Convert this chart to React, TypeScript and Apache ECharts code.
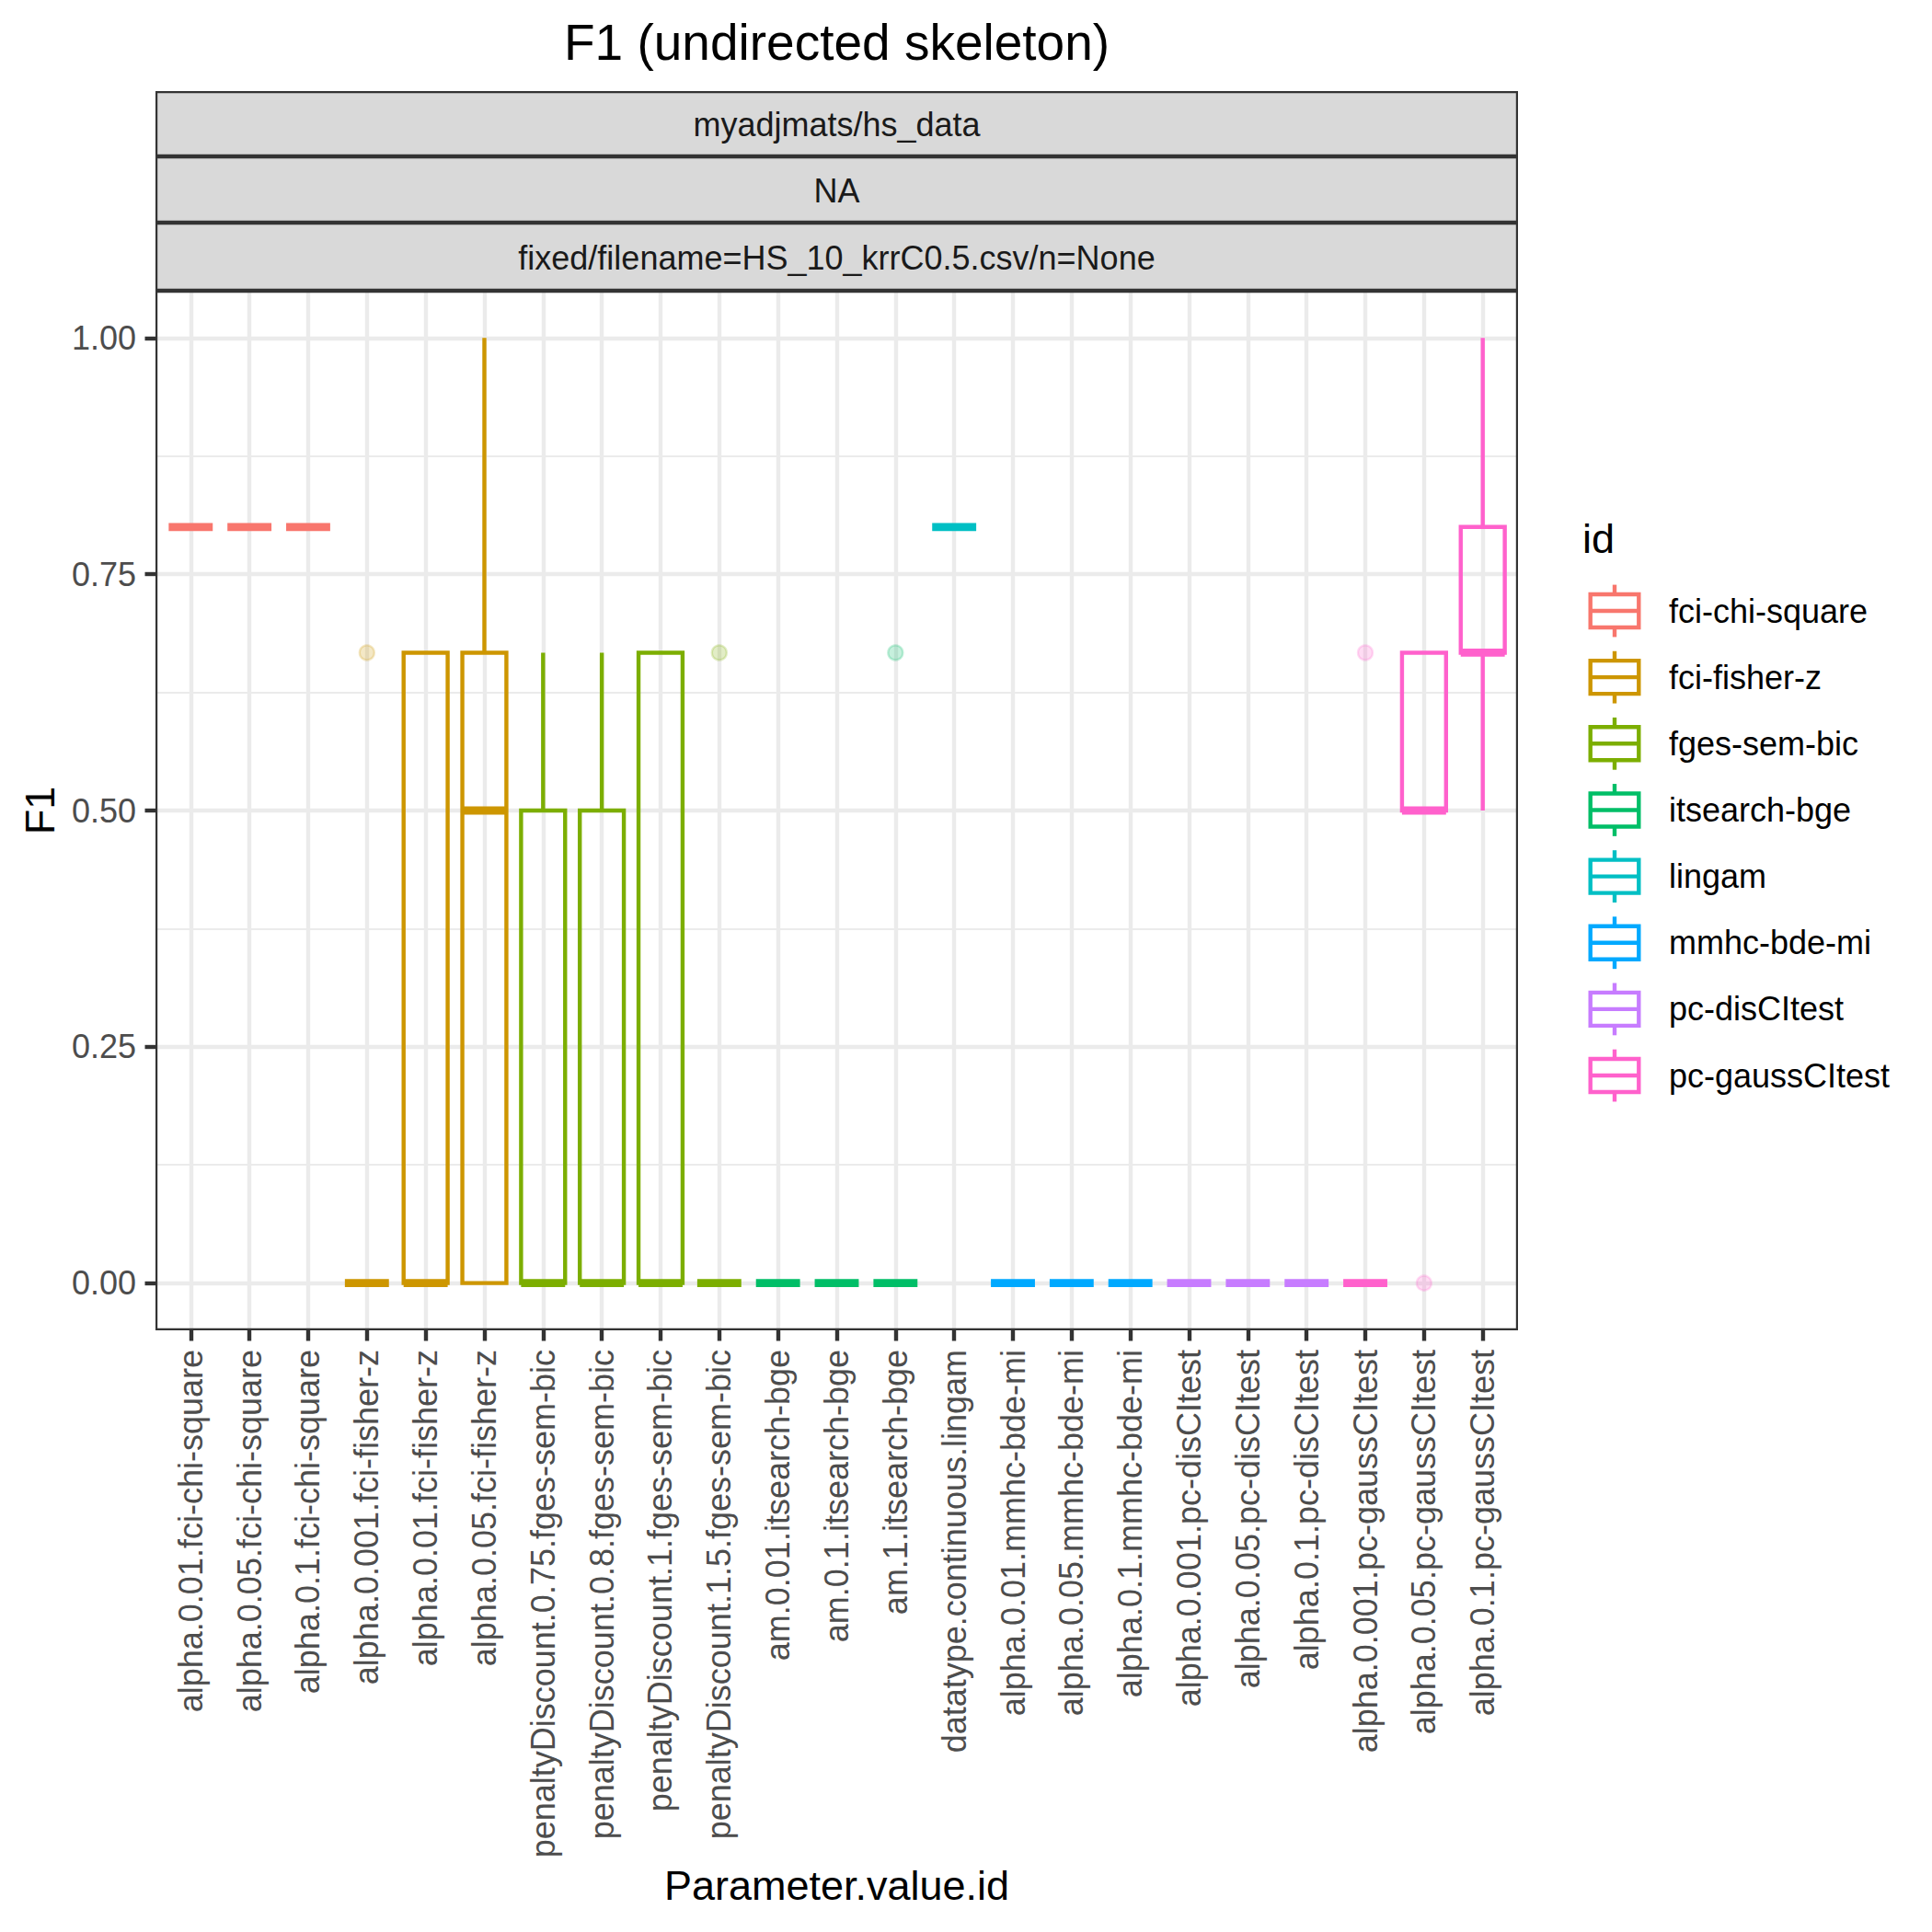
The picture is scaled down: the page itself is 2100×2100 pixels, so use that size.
import React, { useEffect, useRef } from "react";
import * as echarts from "echarts";

// ---------------- data ----------------
const categories = [
  "alpha.0.01.fci-chi-square",
  "alpha.0.05.fci-chi-square",
  "alpha.0.1.fci-chi-square",
  "alpha.0.001.fci-fisher-z",
  "alpha.0.01.fci-fisher-z",
  "alpha.0.05.fci-fisher-z",
  "penaltyDiscount.0.75.fges-sem-bic",
  "penaltyDiscount.0.8.fges-sem-bic",
  "penaltyDiscount.1.fges-sem-bic",
  "penaltyDiscount.1.5.fges-sem-bic",
  "am.0.01.itsearch-bge",
  "am.0.1.itsearch-bge",
  "am.1.itsearch-bge",
  "datatype.continuous.lingam",
  "alpha.0.01.mmhc-bde-mi",
  "alpha.0.05.mmhc-bde-mi",
  "alpha.0.1.mmhc-bde-mi",
  "alpha.0.001.pc-disCItest",
  "alpha.0.05.pc-disCItest",
  "alpha.0.1.pc-disCItest",
  "alpha.0.001.pc-gaussCItest",
  "alpha.0.05.pc-gaussCItest",
  "alpha.0.1.pc-gaussCItest",
];

const groupIds = [
  "fci-chi-square",
  "fci-fisher-z",
  "fges-sem-bic",
  "itsearch-bge",
  "lingam",
  "mmhc-bde-mi",
  "pc-disCItest",
  "pc-gaussCItest",
];
const groupColors = ["#F8766D", "#CD9600", "#7CAE00", "#00BE67", "#00BFC4", "#00A9FF", "#C77CFF", "#FF61CC"];

const categoryGroup = [0, 0, 0, 1, 1, 1, 2, 2, 2, 2, 3, 3, 3, 4, 5, 5, 5, 6, 6, 6, 7, 7, 7];

const boxMin = [0.8, 0.8, 0.8, 0, 0, 0, 0, 0, 0, 0, 0, 0, 0, 0.8, 0, 0, 0, 0, 0, 0, 0, 0.5, 0.5];
const boxQ1 = [0.8, 0.8, 0.8, 0, 0, 0, 0, 0, 0, 0, 0, 0, 0, 0.8, 0, 0, 0, 0, 0, 0, 0, 0.5, 0.667];
const boxMedian = [0.8, 0.8, 0.8, 0, 0, 0.5, 0, 0, 0, 0, 0, 0, 0, 0.8, 0, 0, 0, 0, 0, 0, 0, 0.5, 0.667];
const boxQ3 = [0.8, 0.8, 0.8, 0, 0.667, 0.667, 0.5, 0.5, 0.667, 0, 0, 0, 0, 0.8, 0, 0, 0, 0, 0, 0, 0, 0.667, 0.8];
const boxMax = [0.8, 0.8, 0.8, 0, 0.667, 1, 0.667, 0.667, 0.667, 0, 0, 0, 0, 0.8, 0, 0, 0, 0, 0, 0, 0, 0.667, 1];

const outlierCategory = [3, 9, 12, 20, 21];
const outlierValue = [0.667, 0.667, 0.667, 0.667, 0];

const yTicks = [0, 0.25, 0.5, 0.75, 1];
const yMinorTicks = [0.125, 0.375, 0.625, 0.875];

const stripLabels = ["myadjmats/hs_data", "NA", "fixed/filename=HS_10_krrC0.5.csv/n=None"];
const chartTitle = "F1 (undirected skeleton)";
const xTitle = "Parameter.value.id";
const yTitle = "F1";
const legendTitle = "id";

// ---------------- layout / style ----------------
const FONT = "'Liberation Sans', Arial, Helvetica, sans-serif";
const P_LEFT = 169;
const P_RIGHT = 1650;
const P_TOP = 316;
const P_BOTTOM = 1446;
const STRIP_EDGES = [99, 170, 242, 316];
const STRIP_TEXT_Y = [135, 207, 280];
const LW = 4.4;

function rgba(hex: string, a: number) {
  const n = parseInt(hex.slice(1), 16);
  return `rgba(${(n >> 16) & 255},${(n >> 8) & 255},${n & 255},${a})`;
}

export default function App() {
  const ref = useRef<HTMLDivElement>(null);

  useEffect(() => {
    document.body.style.margin = "0";
    const chart = echarts.init(ref.current as HTMLDivElement, null, { renderer: "svg" });

    const boxData = categories.map((_, i) => [
      i,
      boxMin[i],
      boxQ1[i],
      boxMedian[i],
      boxQ3[i],
      boxMax[i],
      categoryGroup[i],
    ]);

    const outlierData = outlierCategory.map((c, i) => {
      const col = groupColors[categoryGroup[c]];
      return {
        value: [c, outlierValue[i]],
        itemStyle: { color: rgba(col, 0.28), borderColor: rgba(col, 0.28), borderWidth: 2.4 },
      };
    });

    const graphics: any[] = [];
    // title
    graphics.push({
      type: "text",
      x: (P_LEFT + P_RIGHT) / 2,
      y: 46,
      z: 100,
      style: { text: chartTitle, fontSize: 55, fontFamily: FONT, fill: "#000", align: "center", verticalAlign: "middle" },
    });
    // strips
    for (let s = 0; s < 3; s++) {
      const t = STRIP_EDGES[s];
      const b = STRIP_EDGES[s + 1];
      graphics.push({
        type: "rect",
        z: 100,
        shape: { x: P_LEFT + 1.1, y: t + 1.1, width: P_RIGHT - P_LEFT - 2.2, height: b - t - 2.2 },
        style: { fill: "#D9D9D9", stroke: "#333333", lineWidth: 2.2 },
      });
      graphics.push({
        type: "text",
        z: 101,
        x: (P_LEFT + P_RIGHT) / 2,
        y: STRIP_TEXT_Y[s],
        style: { text: stripLabels[s], fontSize: 36, fontFamily: FONT, fill: "#1A1A1A", align: "center", verticalAlign: "middle" },
      });
    }
    // panel border
    graphics.push({
      type: "rect",
      z: 100,
      shape: { x: P_LEFT + 1.1, y: P_TOP + 1.1, width: P_RIGHT - P_LEFT - 2.2, height: P_BOTTOM - P_TOP - 2.2 },
      style: { fill: "none", stroke: "#333333", lineWidth: 2.2 },
    });
    // axis titles
    graphics.push({
      type: "text",
      z: 100,
      x: (P_LEFT + P_RIGHT) / 2,
      y: 2049,
      style: { text: xTitle, fontSize: 45, fontFamily: FONT, fill: "#000", align: "center", verticalAlign: "middle" },
    });
    graphics.push({
      type: "text",
      z: 100,
      x: 43,
      y: (P_TOP + P_BOTTOM) / 2,
      rotation: Math.PI / 2,
      style: { text: yTitle, fontSize: 45, fontFamily: FONT, fill: "#000", align: "center", verticalAlign: "middle" },
    });
    // legend
    graphics.push({
      type: "text",
      z: 100,
      x: 1720,
      y: 585,
      style: { text: legendTitle, fontSize: 45, fontFamily: FONT, fill: "#000", align: "left", verticalAlign: "middle" },
    });
    const kx = 1755;
    groupIds.forEach((g, i) => {
      const cy = 664 + 72.15 * i;
      const col = groupColors[i];
      const st = { stroke: col, lineWidth: LW, fill: "none" };
      graphics.push({ type: "line", z: 100, shape: { x1: kx, y1: cy - 28.4, x2: kx, y2: cy - 18 }, style: st });
      graphics.push({ type: "line", z: 100, shape: { x1: kx, y1: cy + 18, x2: kx, y2: cy + 28.4 }, style: st });
      graphics.push({ type: "rect", z: 100, shape: { x: kx - 26.3, y: cy - 18, width: 52.6, height: 36 }, style: st });
      graphics.push({ type: "line", z: 100, shape: { x1: kx - 26.3, y1: cy, x2: kx + 26.3, y2: cy }, style: st });
      graphics.push({
        type: "text",
        z: 100,
        x: 1814,
        y: cy,
        style: { text: g, fontSize: 36, fontFamily: FONT, fill: "#000", align: "left", verticalAlign: "middle" },
      });
    });

    const xTickValues = categories.map((_, i) => i);

    const option: any = {
      animation: false,
      backgroundColor: "#ffffff",
      textStyle: { fontFamily: FONT },
      grid: {
        left: P_LEFT,
        top: P_TOP,
        width: P_RIGHT - P_LEFT,
        height: P_BOTTOM - P_TOP,
        containLabel: false,
        outerBoundsMode: "none",
      },
      xAxis: {
        type: "value",
        min: -0.6,
        max: 22.6,
        axisLine: { show: false, onZero: false },
        axisTick: { show: true, length: 11.5, customValues: xTickValues, lineStyle: { color: "#333333", width: LW } },
        axisLabel: {
          customValues: xTickValues,
          formatter: (v: number) => categories[Math.round(v)] ?? "",
          rotate: 90,
          margin: 21,
          color: "#4D4D4D",
          fontSize: 36,
          fontFamily: FONT,
        },
        splitLine: { show: true, lineStyle: { color: "#EBEBEB", width: LW } },
      },
      yAxis: [
        {
          type: "value",
          min: -0.05,
          max: 1.05,
          axisLine: { show: false, onZero: false },
          axisTick: { show: true, length: 11.5, customValues: yTicks, lineStyle: { color: "#333333", width: LW } },
          axisLabel: {
            customValues: yTicks,
            formatter: (v: number) => v.toFixed(2),
            margin: 21,
            color: "#4D4D4D",
            fontSize: 36,
            fontFamily: FONT,
          },
          splitLine: { show: true, lineStyle: { color: "#EBEBEB", width: LW } },
        },
        {
          type: "value",
          min: -0.05,
          max: 1.05,
          position: "left",
          axisLine: { show: false, onZero: false },
          axisTick: { show: false, customValues: yMinorTicks },
          axisLabel: { show: false, customValues: yMinorTicks },
          splitLine: { show: true, lineStyle: { color: "#EBEBEB", width: 2.2 } },
        },
      ],
      series: [
        {
          type: "custom",
          name: "boxes",
          xAxisIndex: 0,
          yAxisIndex: 0,
          dimensions: ["x", "min", "q1", "median", "q3", "max", "group"],
          encode: { x: 0, y: [1, 2, 3, 4, 5] },
          data: boxData,
          z: 5,
          renderItem: (params: any, api: any) => {
            const x = api.value(0) as number;
            const vMin = api.value(1) as number;
            const q1 = api.value(2) as number;
            const med = api.value(3) as number;
            const q3 = api.value(4) as number;
            const vMax = api.value(5) as number;
            const color = groupColors[api.value(6) as number];
            const half = (api.size([0.75, 0]) as number[])[0] / 2;
            const pQ1 = api.coord([x, q1]);
            const cx = pQ1[0];
            const yQ1 = pQ1[1];
            const yQ3 = api.coord([x, q3])[1];
            const yMed = api.coord([x, med])[1];
            const yMin = api.coord([x, vMin])[1];
            const yMax = api.coord([x, vMax])[1];
            const children: any[] = [];
            if (vMax > q3) {
              children.push({ type: "line", shape: { x1: cx, y1: yQ3, x2: cx, y2: yMax }, style: { stroke: color, lineWidth: LW } });
            }
            if (vMin < q1) {
              children.push({ type: "line", shape: { x1: cx, y1: yQ1, x2: cx, y2: yMin }, style: { stroke: color, lineWidth: LW } });
            }
            if (yQ1 - yQ3 > 0.5) {
              children.push({
                type: "rect",
                shape: { x: cx - half, y: yQ3, width: 2 * half, height: yQ1 - yQ3 },
                style: { fill: "none", stroke: color, lineWidth: LW },
              });
            }
            children.push({
              type: "line",
              shape: { x1: cx - half, y1: yMed, x2: cx + half, y2: yMed },
              style: { stroke: color, lineWidth: LW * 2 },
            });
            return { type: "group", children };
          },
        },
        {
          type: "scatter",
          name: "outliers",
          xAxisIndex: 0,
          yAxisIndex: 0,
          symbol: "circle",
          symbolSize: 16,
          z: 4,
          data: outlierData,
        },
      ],
      graphic: graphics,
    };

    chart.setOption(option);
    return () => chart.dispose();
  }, []);

  return <div ref={ref} style={{ width: 2100, height: 2100 }} />;
}
